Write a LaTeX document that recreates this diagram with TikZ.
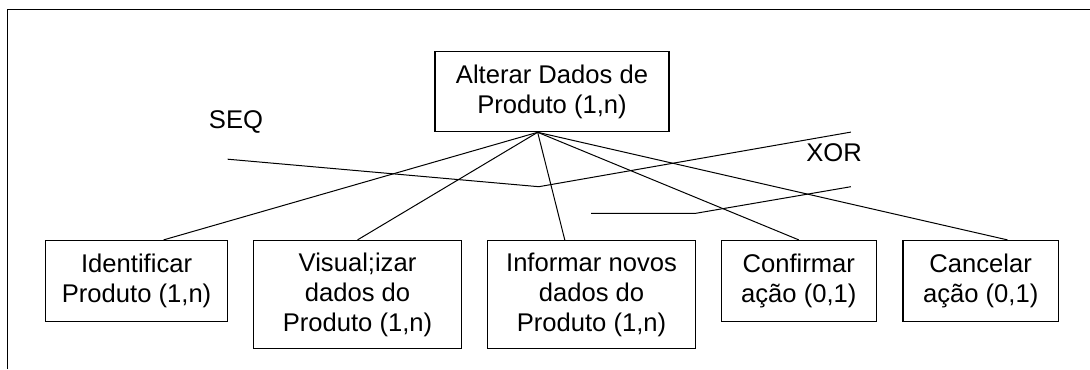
\documentclass[tikz,border=0pt]{standalone}
\usepackage{fontspec}
\setmainfont{Liberation Sans}
\usetikzlibrary{calc}
\begin{document}
\begin{tikzpicture}[x=0.5pt, y=-0.5pt, line width=0.5pt,
        tarefa/.style={draw, line width=0.6pt, align=center, inner sep=0pt, font=\fontsize{12.8}{15}\selectfont},
        rotulo/.style={font=\fontsize{12.8}{15}\selectfont}]
    \useasboundingbox (0,0) rectangle (1090,369);
    % Moldura
    \draw (7.3,369) -- (7.3,10) -- (1090,10);

    % Tarefa principal
    \node[tarefa, minimum width=117pt, minimum height=40.2pt] (alterar) at (552,91.5) {Alterar Dados de\\Produto (1,n)};
    \coordinate (topo) at ($(alterar.south west)!0.439!(alterar.south east)$);

    % Subtarefas
    \node[tarefa, minimum width=91.1pt, minimum height=40.5pt] (identificar) at (136.6,281) {Identificar\\Produto (1,n)};
    \node[tarefa, minimum width=103.8pt, minimum height=53.9pt] (visualizar) at (357.5,294.4) {Visual;izar\\dados do\\Produto (1,n)};
    \node[tarefa, minimum width=103.8pt, minimum height=53.9pt] (informar) at (591.5,294.4) {Informar novos\\dados do\\Produto (1,n)};
    \node[tarefa, minimum width=77.6pt, minimum height=40.5pt] (confirmar) at (798.8,281) {Confirmar\\ação (0,1)};
    \node[tarefa, minimum width=77.7pt, minimum height=40.5pt] (cancelar) at (980.7,281) {Cancelar\\ação (0,1)};

    \draw (topo) -- ($(identificar.north west)!0.647!(identificar.north east)$);
    \draw (topo) -- (visualizar.north);
    \draw (topo) -- ($(informar.north west)!0.372!(informar.north east)$);
    \draw (topo) -- (confirmar.north);
    \draw (topo) -- ($(cancelar.north west)!0.671!(cancelar.north east)$);

    % SEQ e XOR
    \node[rotulo] (seq) at (236,122) {SEQ};
    \node[rotulo] (xor) at (834,153) {XOR};
    \draw (227.7,159.2) -- (538.8,186.7) -- (850.9,132.1);
    \draw (591.2,213.4) -- (695.2,213.4) -- (850.9,186.7);
\end{tikzpicture}
\end{document}
